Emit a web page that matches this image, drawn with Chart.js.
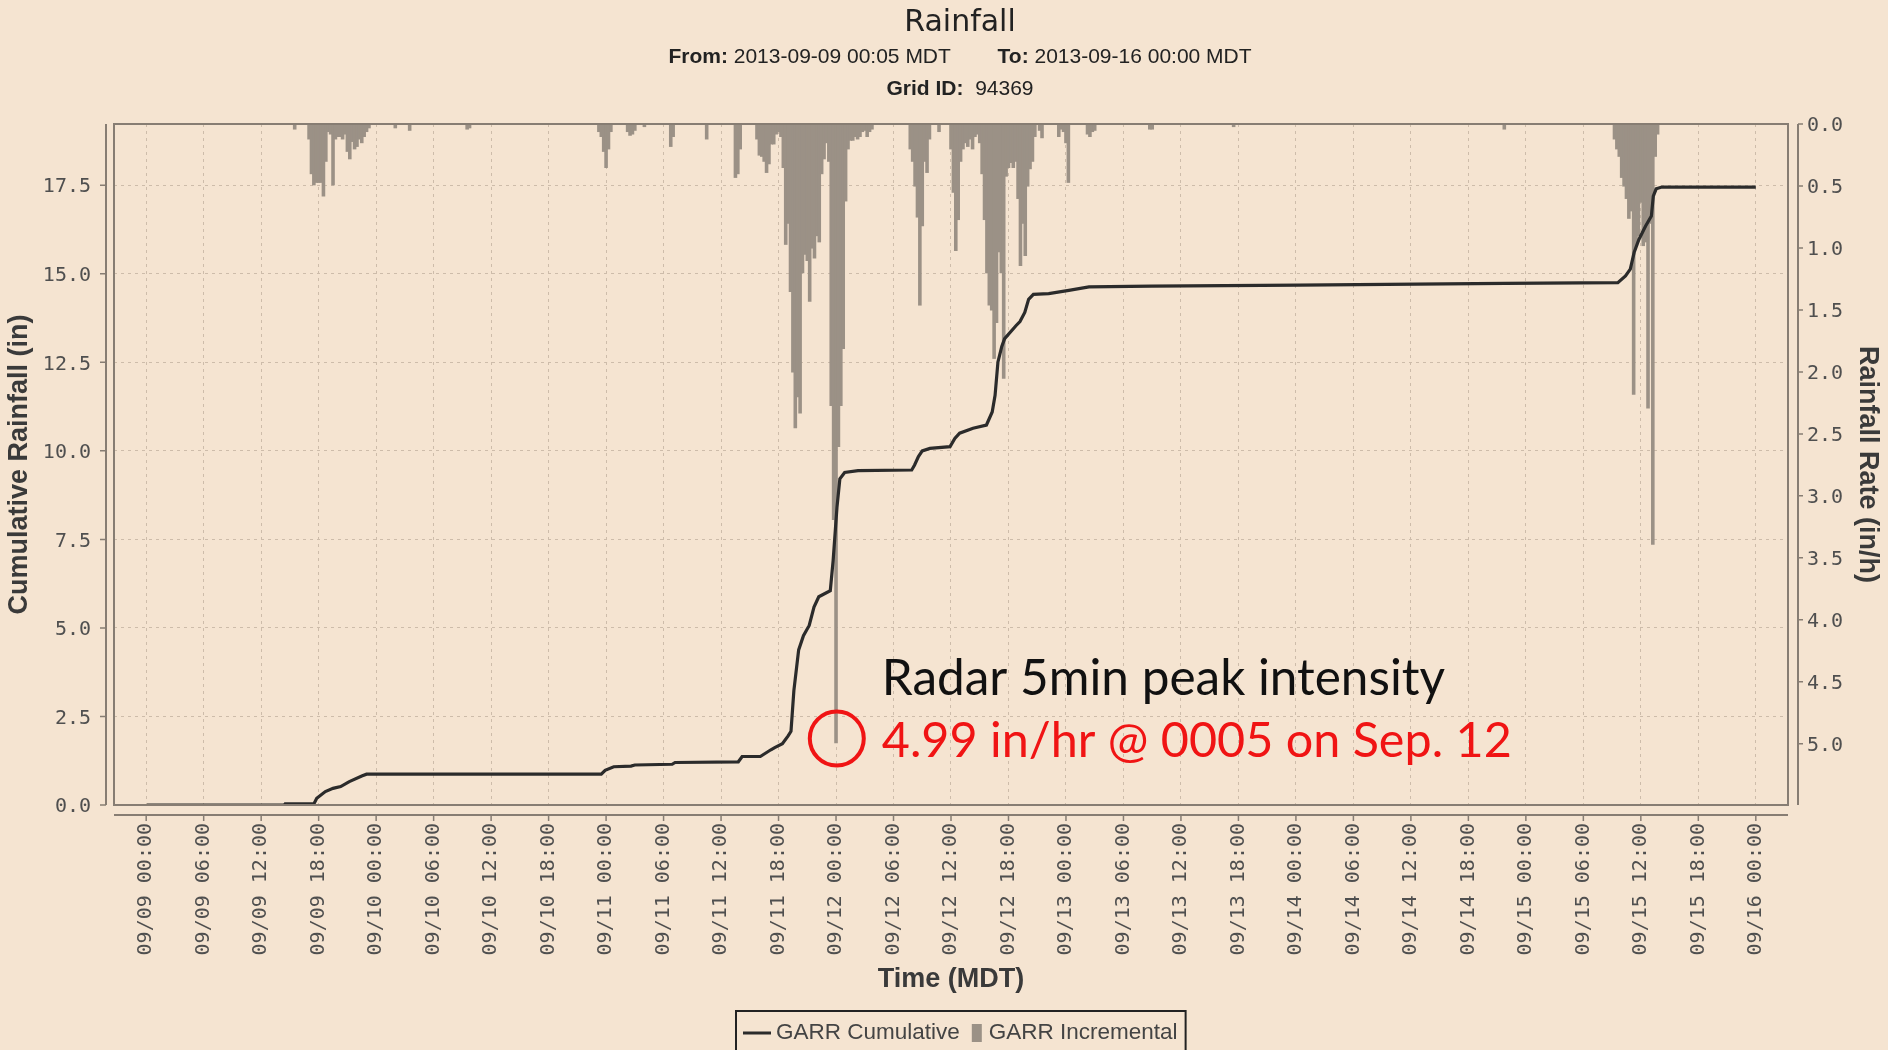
<!DOCTYPE html>
<html>
<head>
<meta charset="utf-8">
<title>Rainfall</title>
<script src="https://cdn.jsdelivr.net/npm/chart.js@4.4.0/dist/chart.umd.min.js"></script>
<style>
  html, body { margin: 0; padding: 0; background: #f5e4d1; }
  canvas { display: block; }
</style>
</head>
<body>
<canvas id="rain-chart" width="1888" height="1050"></canvas>
<script>
// hours since 09/09 00:00 MDT -> cumulative rainfall (in)
const cumHours = [0.08, 14.4, 14.5, 17.5, 17.8, 18.7, 19.5, 20.3, 21.2, 22.5, 23.0,
  47.5, 47.9, 48.8, 50.6, 51.0, 54.9, 55.2, 61.8, 62.2, 64.1, 65.2, 65.6, 66.4,
  67.0, 67.3, 67.6, 68.1, 68.6, 69.2, 69.7, 70.2, 71.4, 71.7, 72.1, 72.4, 72.9,
  74.3, 79.9, 80.2, 80.6, 81.0, 81.8, 83.9, 84.4, 84.9, 86.3, 87.7, 88.3, 88.6,
  88.9, 89.3, 89.6, 90.8, 91.2, 91.7, 92.1, 92.6, 94.2, 96.3, 98.4, 104.9, 120.3,
  141.8, 153.6, 154.4, 154.9, 155.3, 155.8, 156.5, 157.1, 157.3, 157.6, 158.2, 168.0];
const cumValues = [0, 0, 0.03, 0.03, 0.19, 0.38, 0.47, 0.52, 0.66, 0.82, 0.87,
  0.87, 0.98, 1.08, 1.10, 1.13, 1.15, 1.20, 1.22, 1.37, 1.37, 1.56, 1.62, 1.73,
  1.95, 2.08, 3.23, 4.38, 4.78, 5.07, 5.59, 5.88, 6.05, 6.91, 8.41, 9.21, 9.39,
  9.44, 9.46, 9.60, 9.84, 10.0, 10.07, 10.12, 10.35, 10.5, 10.64, 10.73, 11.1, 11.57,
  12.51, 12.95, 13.17, 13.54, 13.65, 13.91, 14.28, 14.42, 14.44, 14.53, 14.63, 14.65, 14.68,
  14.73, 14.75, 14.94, 15.13, 15.6, 15.97, 16.35, 16.63, 17.19, 17.4, 17.45, 17.45];

// incremental rainfall rate (in/h), 15 minute bins, each burst starts at burstStart
const binHours = 0.25;
const burstStart = [15.5, 17.0, 26.0, 27.5, 33.5, 47.25, 50.25, 52.0, 54.75, 58.5, 61.5,
  63.75, 79.75, 82.75, 84.0, 93.25, 95.25, 98.25, 104.75, 113.5, 141.75, 153.25];
const burstRates = [
  [0.04],
  [0.12, 0.40, 0.49, 0.47, 0.47, 0.47, 0.58, 0.30, 0.06, 0.08, 0.49, 0.12, 0.10,
   0.10, 0.12, 0.08, 0.22, 0.28, 0.14, 0.20, 0.18, 0.12, 0.15, 0.10, 0.06, 0.03],
  [0.03],
  [0.05],
  [0.04, 0.03],
  [0.06, 0.10, 0.22, 0.35, 0.20, 0.06],
  [0.06, 0.09, 0.08, 0.05],
  [0.02],
  [0.18, 0.10],
  [0.12],
  [0.43, 0.40, 0.20],
  [0.12, 0.25, 0.26, 0.30, 0.39, 0.32, 0.16, 0.16, 0.08, 0.06,
   0.10, 0.35, 0.97, 0.80, 1.35, 2.00, 2.45, 2.20, 2.33, 1.20,
   1.05, 1.10, 1.43, 1.00, 1.08, 0.90, 0.95, 0.40, 0.28, 0.15,
   0.30, 2.27, 3.19, 4.99, 2.60, 2.27, 1.81, 0.62, 0.20, 0.13,
   0.13, 0.10, 0.12, 0.10, 0.06, 0.05, 0.10, 0.06, 0.04],
  [0.20, 0.30, 0.50, 0.75, 1.46, 0.82, 0.30, 0.39, 0.12],
  [0.06],
  [0.20, 0.55, 1.02, 0.77, 0.30, 0.20, 0.15, 0.18, 0.12, 0.20,
   0.10, 0.08, 0.15, 0.40, 0.77, 1.20, 1.46, 1.50, 1.89, 1.60,
   1.03, 1.20, 2.05, 0.42, 0.35, 0.31, 0.35, 0.30, 0.60, 1.14,
   0.80, 1.06, 0.50, 0.36, 0.30, 0.10],
  [0.05, 0.11],
  [0.10, 0.04, 0.06, 0.15, 0.47],
  [0.08, 0.10, 0.06, 0.05],
  [0.04, 0.04],
  [0.02],
  [0.04],
  [0.12, 0.20, 0.26, 0.43, 0.50, 0.60, 0.76, 0.70, 2.18, 0.98,
   0.90, 0.63, 0.98, 0.95, 2.29, 0.80, 3.39, 0.26, 0.08]
];

// radar 5 min peak
const peakHour = 72.08;
const peakRate = 4.99;

// ticks
const xTickHours = [0, 6, 12, 18, 24, 30, 36, 42, 48, 54, 60, 66, 72, 78, 84, 90,
  96, 102, 108, 114, 120, 126, 132, 138, 144, 150, 156, 162, 168];
const leftTicks = [0, 2.5, 5.0, 7.5, 10.0, 12.5, 15.0, 17.5];
const rightTicks = [0, 0.5, 1.0, 1.5, 2.0, 2.5, 3.0, 3.5, 4.0, 4.5, 5.0];

const bgColor = "#f5e4d1";
const gridColor = "#cdbcaa";
const frameColor = "#877d73";
const barColor = "#9b9186";
const lineColor = "#2b2b2b";
const red = "#f01414";
const tickFont = { family: "DejaVu Sans Mono", size: 20 };
const titleFont = { family: "Liberation Sans", size: 27, weight: "bold" };

function pad2(n) {
    return (n < 10 ? "0" : "") + n;
}

function hourLabel(h) {
    let day = 9 + Math.floor(h / 24);
    return "09/" + pad2(day) + " " + pad2(h % 24) + ":00";
}

const barData = [];
burstStart.forEach((t0, i) => {
    burstRates[i].forEach((r, k) => barData.push({ x: t0 + k * binHours, y: r }));
});
const lineData = cumHours.map((h, i) => ({ x: h, y: cumValues[i] }));

const backgroundPlugin = {
    id: "background",
    beforeDraw(chart) {
        const ctx = chart.ctx;
        ctx.save();
        ctx.fillStyle = bgColor;
        ctx.fillRect(0, 0, chart.width, chart.height);
        ctx.restore();
    }
};

const framePlugin = {
    id: "frame",
    afterDraw(chart) {
        const ctx = chart.ctx;
        const ca = chart.chartArea;
        ctx.save();
        ctx.strokeStyle = frameColor;
        ctx.lineWidth = 2;
        ctx.strokeRect(ca.left, ca.top, ca.right - ca.left, ca.bottom - ca.top);

        // detached axis lines with tick marks
        const yL = chart.scales.yL, yR = chart.scales.yR, x = chart.scales.x;
        const lx = ca.left - 8, rx = ca.right + 10, by = ca.bottom + 10;
        ctx.beginPath();
        ctx.moveTo(lx, ca.top); ctx.lineTo(lx, ca.bottom);
        ctx.moveTo(rx, ca.top); ctx.lineTo(rx, ca.bottom);
        ctx.moveTo(ca.left, by); ctx.lineTo(ca.right, by);
        ctx.stroke();
        ctx.lineWidth = 1.5;
        ctx.beginPath();
        yL.ticks.forEach(t => {
            const p = yL.getPixelForValue(t.value);
            ctx.moveTo(lx - 6, p); ctx.lineTo(lx, p);
        });
        yR.ticks.forEach(t => {
            const p = yR.getPixelForValue(t.value);
            ctx.moveTo(rx, p); ctx.lineTo(rx + 5, p);
        });
        x.ticks.forEach(t => {
            const p = x.getPixelForValue(t.value);
            ctx.moveTo(p, by); ctx.lineTo(p, by + 6);
        });
        ctx.stroke();
        ctx.restore();
    }
};

const headerPlugin = {
    id: "header",
    afterDraw(chart) {
        const ctx = chart.ctx;
        const cx = 960;
        ctx.save();
        ctx.fillStyle = "#222";
        ctx.textBaseline = "middle";
        ctx.textAlign = "center";
        ctx.font = "30px 'DejaVu Sans'";
        ctx.fillText("Rainfall", cx, 23);

        function richLine(parts, y) {
            let total = 0;
            parts.forEach(p => {
                ctx.font = (p[1] ? "bold " : "") + "21px 'Liberation Sans'";
                total += ctx.measureText(p[0]).width;
            });
            let xPos = cx - total / 2;
            ctx.textAlign = "left";
            parts.forEach(p => {
                ctx.font = (p[1] ? "bold " : "") + "21px 'Liberation Sans'";
                ctx.fillText(p[0], xPos, y);
                xPos += ctx.measureText(p[0]).width;
            });
        }
        richLine([["From:", true], [" 2013-09-09 00:05 MDT", false], ["        ", false],
                  ["To:", true], [" 2013-09-16 00:00 MDT", false]], 57);
        richLine([["Grid ID:", true], ["  94369", false]], 89);
        ctx.restore();
    }
};

const legendPlugin = {
    id: "boxLegend",
    afterDraw(chart) {
        const ctx = chart.ctx;
        const ds = chart.data.datasets;
        const y = 1033;
        let xPos = 743;
        ctx.save();
        ctx.font = "22.5px 'Liberation Sans'";
        ctx.textBaseline = "middle";
        ctx.fillStyle = "#444";

        ctx.strokeStyle = ds[0].borderColor;
        ctx.lineWidth = 3;
        ctx.beginPath();
        ctx.moveTo(xPos, y); ctx.lineTo(xPos + 28, y);
        ctx.stroke();
        xPos += 33;
        ctx.fillText(ds[0].label, xPos, y);
        xPos += ctx.measureText(ds[0].label).width + 12;

        ctx.fillStyle = ds[1].backgroundColor;
        ctx.fillRect(xPos, y - 9, 10, 18);
        xPos += 17;
        ctx.fillStyle = "#444";
        ctx.fillText(ds[1].label, xPos, y);
        xPos += ctx.measureText(ds[1].label).width + 8;

        ctx.strokeStyle = "#222";
        ctx.lineWidth = 2;
        ctx.strokeRect(736, 1011, xPos - 736, 60);
        ctx.restore();
    }
};

const peakPlugin = {
    id: "peakNote",
    afterDraw(chart) {
        const ctx = chart.ctx;
        const px = chart.scales.x.getPixelForValue(peakHour);
        const py = chart.scales.yR.getPixelForValue(peakRate) - 4;
        ctx.save();
        ctx.strokeStyle = red;
        ctx.lineWidth = 4;
        ctx.beginPath();
        ctx.arc(px, py, 27, 0, Math.PI * 2);
        ctx.stroke();

        ctx.textBaseline = "alphabetic";
        ctx.textAlign = "left";
        ctx.fillStyle = "#111";
        ctx.font = "49.5px Lato";
        ctx.fillText("Radar 5min peak intensity", px + 45, py - 44);
        ctx.fillStyle = red;
        ctx.font = "48.5px Lato";
        ctx.fillText(peakRate.toFixed(2) + " in/hr @ 0005 on Sep. 12", px + 45, py + 18);
        ctx.restore();
    }
};

new Chart(document.getElementById("rain-chart"), {
    data: {
        datasets: [
            {
                type: "line",
                label: "GARR Cumulative",
                data: lineData,
                xAxisID: "x",
                yAxisID: "yL",
                borderColor: lineColor,
                borderWidth: 3.2,
                pointRadius: 0,
                tension: 0,
                order: 0
            },
            {
                type: "bar",
                label: "GARR Incremental",
                data: barData,
                xAxisID: "x",
                yAxisID: "yR",
                backgroundColor: barColor,
                borderWidth: 0,
                inflateAmount: 0.6,
                barPercentage: 1,
                categoryPercentage: 1,
                grouped: false,
                order: 1
            }
        ]
    },
    options: {
        responsive: false,
        animation: false,
        events: [],
        layout: { padding: { top: 124, left: 0, right: 0, bottom: 0 } },
        plugins: {
            legend: { display: false },
            tooltip: { enabled: false }
        },
        scales: {
            x: {
                type: "linear",
                position: "bottom",
                offset: false,
                min: -3.36,
                max: 171.36,
                afterBuildTicks: s => { s.ticks = xTickHours.map(v => ({ value: v })); },
                afterFit: s => { s.height = 245; },
                grid: { offset: false, color: gridColor, lineWidth: 1, drawTicks: false },
                border: { display: false, dash: [3, 4] },
                ticks: {
                    autoSkip: false,
                    maxRotation: 90,
                    minRotation: 90,
                    padding: 18,
                    color: "#4f4f4f",
                    font: tickFont,
                    callback: v => hourLabel(v)
                },
                title: {
                    display: true,
                    text: "Time (MDT)",
                    color: "#3a3a3a",
                    font: titleFont,
                    padding: { top: 0, bottom: 54 }
                }
            },
            yL: {
                type: "linear",
                position: "left",
                min: 0,
                max: 19.23,
                afterBuildTicks: s => { s.ticks = leftTicks.map(v => ({ value: v })); },
                afterFit: s => { s.width = 114; },
                grid: { color: gridColor, lineWidth: 1, drawTicks: false },
                border: { display: false, dash: [3, 4] },
                ticks: {
                    padding: 23,
                    labelOffset: 2,
                    color: "#4f4f4f",
                    font: tickFont,
                    callback: v => v.toFixed(1)
                },
                title: {
                    display: true,
                    text: "Cumulative Rainfall (in)",
                    color: "#3a3a3a",
                    font: titleFont,
                    padding: { top: 3, bottom: 0 }
                }
            },
            yR: {
                type: "linear",
                position: "right",
                reverse: true,
                min: 0,
                max: 5.494,
                afterBuildTicks: s => { s.ticks = rightTicks.map(v => ({ value: v })); },
                afterFit: s => { s.width = 100; },
                grid: { drawOnChartArea: false, drawTicks: false },
                border: { display: false },
                ticks: {
                    padding: 19,
                    labelOffset: 2,
                    color: "#4f4f4f",
                    font: tickFont,
                    callback: v => v.toFixed(1)
                },
                title: {
                    display: true,
                    text: "Rainfall Rate (in/h)",
                    color: "#3a3a3a",
                    font: titleFont,
                    padding: { top: 4, bottom: 0 }
                }
            }
        }
    },
    plugins: [backgroundPlugin, framePlugin, headerPlugin, legendPlugin, peakPlugin]
});
</script>
</body>
</html>
